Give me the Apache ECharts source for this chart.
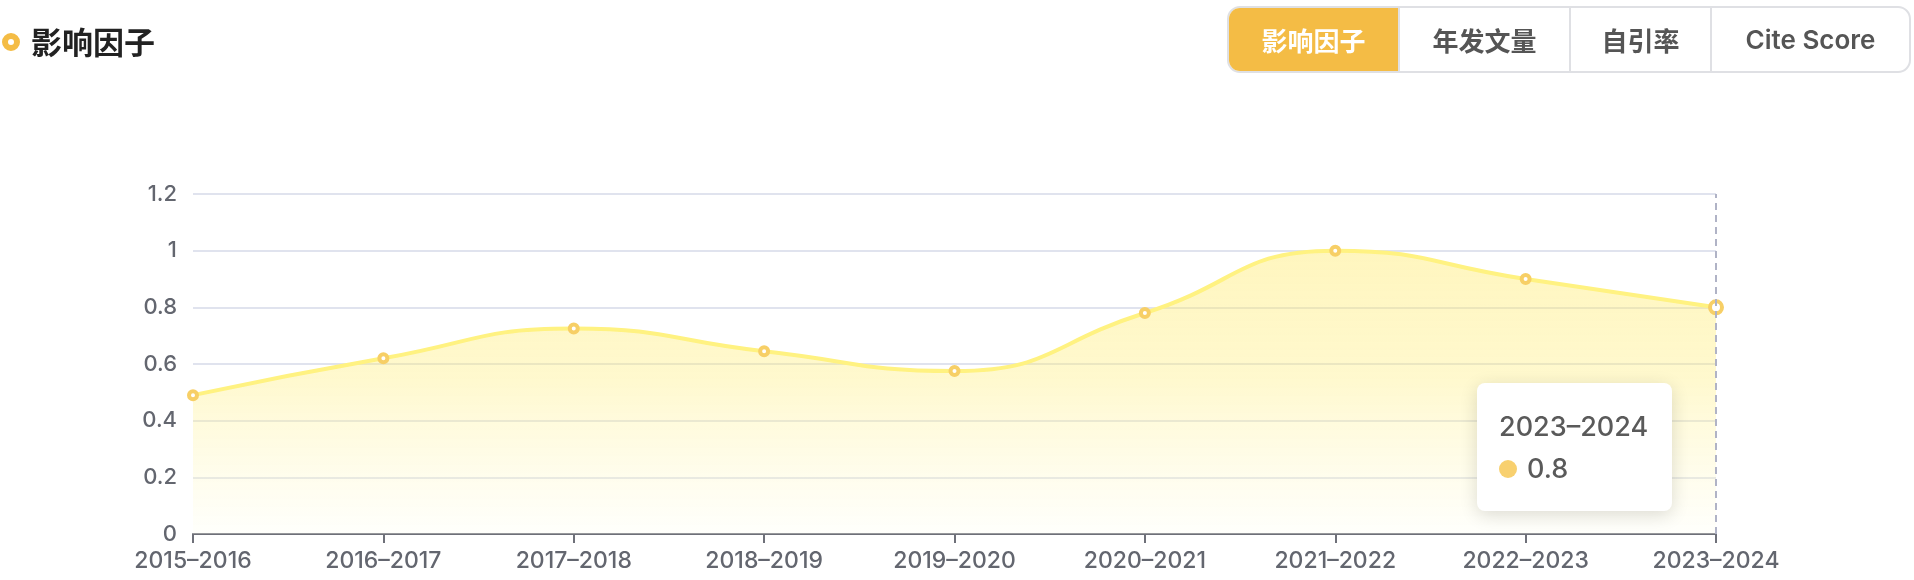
<!DOCTYPE html>
<html>
<head>
<meta charset="utf-8">
<script src="https://cdn.jsdelivr.net/npm/echarts@6/dist/echarts.min.js"></script>
<style>
html,body{margin:0;padding:0;width:1914px;height:580px;background:#fff;overflow:hidden;font-family:"Inter","Noto Sans CJK SC",sans-serif;}
#chart{position:absolute;left:0;top:0;width:1914px;height:580px;}
.title{position:absolute;left:2px;top:18px;height:44px;display:flex;align-items:center;font-family:"Noto Sans CJK SC",sans-serif;font-weight:700;font-size:31px;color:#222;}
.ring{width:6px;height:6px;border:6px solid #f4bc45;border-radius:50%;margin-right:11px;margin-top:4px;background:#fff;}
.tabs{position:absolute;left:1227px;top:6px;height:67px;display:flex;border:2px solid #dfe0e4;border-radius:13px;overflow:hidden;box-sizing:border-box;}
.tab{height:100%;display:flex;align-items:center;justify-content:center;font-family:"Inter","Noto Sans CJK SC",sans-serif;font-size:26px;font-weight:600;color:#555;border-left:2px solid #dfe0e4;box-sizing:border-box;}
.tab:first-child{border-left:none;}
.tab.active{background:#f4bc45;color:#fff;font-weight:700;}
</style>
</head>
<body>
<div id="chart"></div>
<div class="title"><span class="ring"></span>影响因子</div>
<div class="tabs" id="tabs"></div>
<script>
const categories = ['2015–2016','2016–2017','2017–2018','2018–2019','2019–2020','2020–2021','2021–2022','2022–2023','2023–2024'];
const impactFactor = [0.49, 0.62, 0.725, 0.645, 0.575, 0.78, 1.0, 0.9, 0.8];
const yTicks = { min: 0, max: 1.2, interval: 0.2 };
const tabLabels = ['影响因子','年发文量','自引率','Cite Score'];
const tabWidths = [169, 171, 141, 199];

const tabs = document.getElementById('tabs');
tabLabels.forEach((t, i) => {
  const d = document.createElement('div');
  d.className = 'tab' + (i === 0 ? ' active' : '');
  d.style.width = tabWidths[i] + 'px';
  d.textContent = t;
  tabs.appendChild(d);
});

const chart = echarts.init(document.getElementById('chart'), null, {renderer: 'canvas'});
const lastIdx = categories.length - 1;
chart.setOption({
  animation: false,
  grid: { left: 193, right: 198, top: 194, bottom: 46, containLabel: false },
  tooltip: {
    trigger: 'axis',
    alwaysShowContent: true,
    backgroundColor: '#fff',
    borderWidth: 0,
    borderRadius: 8,
    padding: [22, 24, 22, 22],
    extraCssText: 'box-shadow:0 4px 18px rgba(0,0,0,0.14);',
    axisPointer: { type: 'line', lineStyle: { color: '#b0b3c6', type: [7, 5], width: 2 } },
    position: function (point, params, dom, rect, size) {
      return [point[0] - size.contentSize[0] - 44, point[1] + 76];
    },
    formatter: function (params) {
      const p = params[0];
      return '<div style="font-family:Inter,sans-serif;font-size:27px;font-weight:500;color:#5a5a5a;line-height:44px;">' + p.name + '</div>' +
        '<div style="font-family:Inter,sans-serif;font-size:27px;font-weight:500;color:#5a5a5a;line-height:40px;display:flex;align-items:center;">' +
        '<span style="display:inline-block;width:18px;height:18px;border-radius:50%;background:#f8d06f;margin-right:10px;"></span>' + p.value + '</div>';
    }
  },
  xAxis: {
    type: 'category',
    data: categories,
    boundaryGap: false,
    axisLine: { lineStyle: { color: '#6e7079', width: 2 } },
    axisTick: { show: true, length: 9, lineStyle: { color: '#6e7079', width: 2 }, alignWithLabel: true },
    axisLabel: { color: '#63666f', fontSize: 23, fontWeight: 500, margin: 16, fontFamily: 'Inter', interval: 0 },
    splitLine: { show: false }
  },
  yAxis: {
    type: 'value',
    min: yTicks.min, max: yTicks.max, interval: yTicks.interval,
    axisLine: { show: false },
    axisTick: { show: false },
    axisLabel: { color: '#63666f', fontSize: 22, fontWeight: 500, margin: 16, fontFamily: 'Inter' },
    splitLine: { lineStyle: { color: '#e0e3ee', width: 2 } }
  },
  series: [{
    type: 'line',
    name: '影响因子',
    data: impactFactor,
    smooth: true,
    symbol: 'circle',
    symbolSize: 8,
    showSymbol: true,
    lineStyle: { color: '#f9dc76', width: 4 },
    itemStyle: { color: '#ffffff', borderColor: '#f7cf66', borderWidth: 4 },
    emphasis: { scale: 1.5, itemStyle: { color: '#fff', borderColor: '#f7cf66', borderWidth: 4 } },
    areaStyle: {
      color: new echarts.graphic.LinearGradient(0, 0, 0, 1, [
        { offset: 0, color: 'rgba(245,212,92,0.6)' },
        { offset: 0.45, color: 'rgba(246,216,105,0.5)' },
        { offset: 1, color: 'rgba(255,246,220,0.4)' }
      ])
    }
  }]
});
setTimeout(() => {
  chart.dispatchAction({ type: 'showTip', seriesIndex: 0, dataIndex: lastIdx });
}, 50);
</script>
</body>
</html>
